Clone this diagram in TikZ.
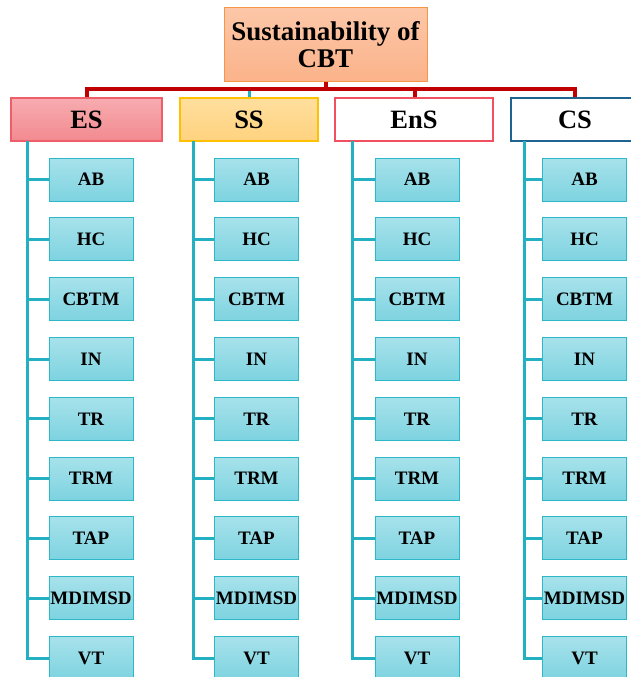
\documentclass[tikz,border=0pt]{standalone}
\usepackage{fontspec}
\setmainfont{Liberation Serif}
\definecolor{tealline}{HTML}{22B0C2}
\definecolor{redline}{HTML}{C00000}
\definecolor{childtop}{HTML}{A7E2EB}
\definecolor{childbot}{HTML}{7DD3E0}
\definecolor{childborder}{HTML}{2DB8CA}
\definecolor{roottop}{HTML}{FCC7A8}
\definecolor{rootbot}{HTML}{FBB38A}
\definecolor{rootborder}{HTML}{F79646}
\definecolor{estop}{HTML}{F7ACB0}
\definecolor{esbot}{HTML}{F28A90}
\definecolor{esborder}{HTML}{EE5E6A}
\definecolor{sstop}{HTML}{FFDF9E}
\definecolor{ssbot}{HTML}{FFD27E}
\definecolor{ssborder}{HTML}{FFC000}
\definecolor{ensborder}{HTML}{F0505F}
\definecolor{csborder}{HTML}{1F6391}
\tikzset{
  rootbox/.style={draw=rootborder, line width=1pt, top color=roottop, bottom color=rootbot,
    minimum width=203pt, minimum height=73pt, inner sep=0pt, align=center,
    font=\fontsize{27}{27}\selectfont\bfseries},
  catbox/.style={line width=2pt, minimum height=43pt, inner sep=0pt,
    font=\fontsize{26.5}{27}\selectfont\bfseries},
  childbox/.style={draw=childborder, line width=1pt, top color=childtop, bottom color=childbot,
    minimum width=84pt, minimum height=43pt, inner sep=0pt,
    font=\fontsize{19}{20}\selectfont\bfseries},
  redconn/.style={draw=redline, line width=4pt},
  tealconn/.style={draw=tealline, line width=3pt},
}
\begin{document}
\begin{tikzpicture}[x=1pt,y=-1pt]
\useasboundingbox (0,0) rectangle (630,677);
\node[rootbox] (root) at (325.5,44.5) {Sustainability of\\CBT};
\node[catbox, draw=esborder, top color=estop, bottom color=esbot, minimum width=151pt] (ES) at (86.5,119.5) {ES};
\node[catbox, draw=ssborder, top color=sstop, bottom color=ssbot, minimum width=138pt] (SS) at (249,119.5) {SS};
\node[catbox, draw=ensborder, fill=white, minimum width=158pt] (EnS) at (414,119.5) {EnS};
\node[catbox, draw=csborder, fill=white, minimum width=128pt] (CS) at (575,119.5) {CS};
% top connectors
\coordinate (bus) at (325.5,89.3);
\draw[redconn] (root.south) -- (bus);
\draw[redconn] (ES.north -| 87,0) |- (bus);
\draw[redconn] (CS.north) |- (bus);
\draw[redconn] (EnS.north -| 415,0) -- (415,89.3);
\draw[tealconn] (SS.north) -- (249,91.3);
% children
\foreach \cat/\cx/\vx in {ES/91/27, SS/256.5/193.3, EnS/417/352, CS/584.5/524}{
  \foreach \lab [count=\i from 0] in {AB,HC,CBTM,IN,TR,TRM,TAP,MDIMSD,VT}{
    \node[childbox] (\cat-\i) at (\cx,179.6+59.8*\i) {\lab};
    \draw[tealconn] (\vx,179.6+59.8*\i) -- (\cat-\i.west);
  }
  \draw[tealconn] (\vx,141) -- (\vx,179.6+59.8*8+1.5);
}
\end{tikzpicture}
\end{document}
